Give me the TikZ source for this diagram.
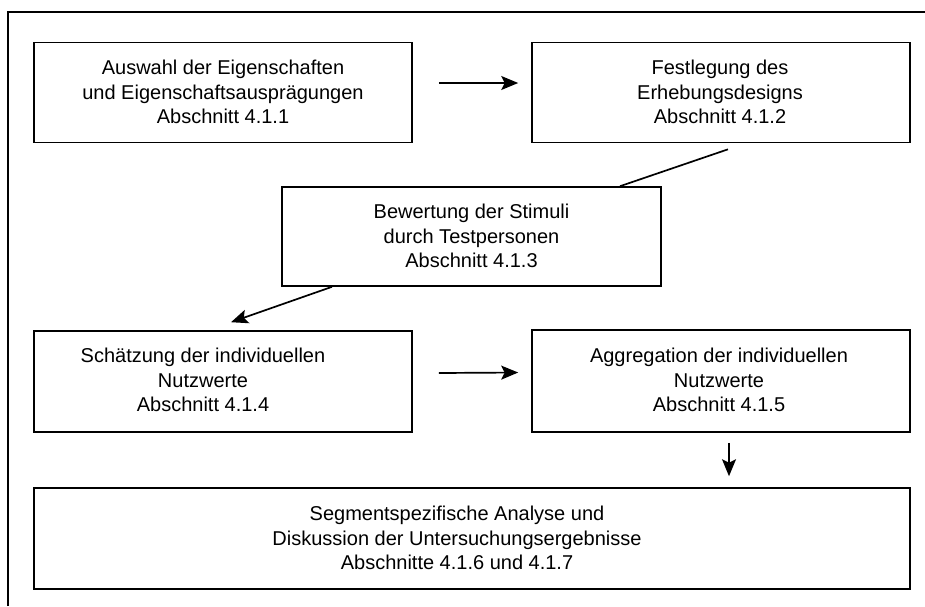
\documentclass[tikz,border=0pt]{standalone}
\usepackage{fontspec}
\setmainfont{Liberation Sans}
\usetikzlibrary{arrows.meta,calc}
\begin{document}
\begin{tikzpicture}[x=1pt,y=-1pt,
  stagebox/.style={draw,line width=1.6pt,rectangle,inner sep=0pt},
  stagetext/.style={align=center,font=\fontsize{20}{24.5}\selectfont,inner sep=0pt},
  flow/.style={line width=1.7pt,-{Stealth[length=17pt,width=14pt,inset=3.5pt]}},
  link/.style={line width=1.7pt}]
\useasboundingbox (0,0) rectangle (925,606);
% outer frame (open to the right and bottom)
\draw[line width=1.6pt] (8,606) -- (8,12) -- (925,12);

% boxes
\node[stagebox,minimum width=378pt,minimum height=100pt] (a) at (223,92.5) {};
\node[stagebox,minimum width=378pt,minimum height=100pt] (b) at (721,92.5) {};
\node[stagebox,minimum width=379pt,minimum height=99pt] (c) at (471.5,236.5) {};
\node[stagebox,minimum width=378pt,minimum height=101pt] (d) at (223,381.5) {};
\node[stagebox,minimum width=378pt,minimum height=102pt] (e) at (721,381) {};
\node[stagebox,minimum width=876pt,minimum height=101pt] (f) at (472,538.5) {};

% texts
\node[stagetext] (at) at (223,92) {Auswahl der Eigenschaften\\und Eigenschaftsausprägungen\\Abschnitt 4.1.1};
\node[stagetext] (bt) at (720,92) {Festlegung des\\Erhebungsdesigns\\Abschnitt 4.1.2};
\node[stagetext] (ct) at (471.5,236) {Bewertung der Stimuli\\durch Testpersonen\\Abschnitt 4.1.3};
\node[stagetext] (dt) at (203,380) {Schätzung der individuellen\\Nutzwerte\\Abschnitt 4.1.4};
\node[stagetext] (et) at (719,380) {Aggregation der individuellen\\Nutzwerte\\Abschnitt 4.1.5};
\node[stagetext] (ft) at (457,538) {Segmentspezifische Analyse und\\Diskussion der Untersuchungsergebnisse\\Abschnitte 4.1.6 und 4.1.7};

% connector end points
\coordinate (ab1) at ($(a.east)+(26,-9.5)$);
\coordinate (ab2) at ($(b.west)+(-13,-9.5)$);
\coordinate (bc1) at ($(b.south)+(7,6)$);
\coordinate (bc2) at ($(c.north)+(148.5,0)$);
\coordinate (cd1) at ($(c.south)+(-139.5,0)$);
\coordinate (cd2) at ($(d.north)+(8,-8)$);
\coordinate (de1) at ($(d.east)+(26,-8.5)$);
\coordinate (de2) at ($(e.west)+(-13,-8.5)$);
\coordinate (ef1) at ($(e.south)+(8,10)$);
\coordinate (ef2) at ($(f.north)+(257,-11)$);

% connectors
\draw[flow] (ab1) -- (ab2);
\draw[link] (bc1) -- (bc2);
\draw[flow] (cd1) -- (cd2);
\draw[flow] (de1) -- (de2);
\draw[flow] (ef1) -- (ef2);
\end{tikzpicture}
\end{document}
